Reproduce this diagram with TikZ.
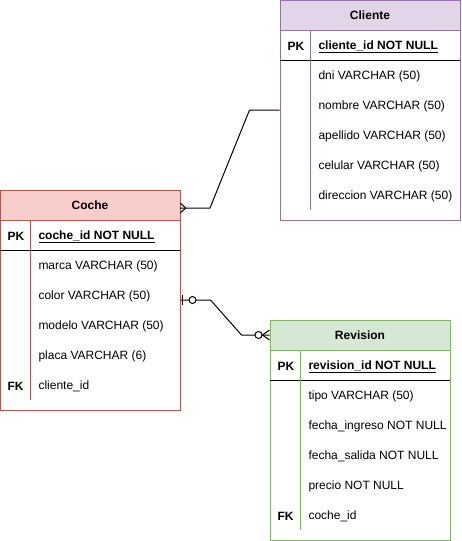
\documentclass[tikz,border=0pt]{standalone}
\usepackage{fontspec}
\setmainfont{Liberation Sans}
\usetikzlibrary{calc}
\definecolor{cliFill}{HTML}{E1D5E7}
\definecolor{cliLine}{HTML}{9673A6}
\definecolor{cocFill}{HTML}{F8CECC}
\definecolor{cocLine}{HTML}{B85450}
\definecolor{revFill}{HTML}{D5E8D4}
\definecolor{revLine}{HTML}{82B366}
\begin{document}
\begin{tikzpicture}
  [x=1pt,y=-1pt,line width=1pt,
   every node/.style={font=\fontsize{12}{14}\selectfont},
   table/.style={minimum width=180pt,minimum height=220pt,inner sep=0pt,fill=white},
   head/.style={minimum width=180pt,minimum height=30pt,inner sep=0pt,font=\fontsize{12}{14}\selectfont\bfseries},
   field/.style={anchor=west,inner sep=0pt,yshift=-1.5pt},
   key/.style={anchor=west,inner sep=0pt,yshift=-1.5pt,font=\fontsize{12}{14}\selectfont\bfseries},
   link/.style={line width=1pt,black}]
  \useasboundingbox (0,0) rectangle (461,541);

  % Cliente
  \node (cliente)[table,draw=cliLine] at (370,110) {};
  \node (cliHead)[head,fill=cliFill,draw=cliLine] at (370,15) {Cliente};
  \draw (280,60) -- (460,60);
  \draw[cliLine] (310,30) -- (310,210);
  \node (cliPK)[key] at (287,45) {PK};
  \node (cliId)[key] at (318,45) {\underline{cliente\_id NOT NULL}};
  \foreach \txt [count=\i] in {dni VARCHAR (50),nombre VARCHAR (50),apellido VARCHAR (50),celular VARCHAR (50),direccion VARCHAR (50)}
    \node (cli\i)[field] at (318,45+30*\i) {\txt};

  % Coche
  \node (coche)[table,draw=cocLine] at (90,300) {};
  \node (cocHead)[head,fill=cocFill,draw=cocLine] at (90,205) {Coche};
  \draw (0,250) -- (180,250);
  \draw[cocLine] (30,220) -- (30,400);
  \node (cocPK)[key] at (7,235) {PK};
  \node (cocId)[key] at (38,235) {\underline{coche\_id NOT NULL}};
  \foreach \txt [count=\i] in {marca VARCHAR (50),color VARCHAR (50),modelo VARCHAR (50),placa VARCHAR (6),cliente\_id}
    \node (coc\i)[field] at (38,235+30*\i) {\txt};
  \node (cocFK)[key] at (7,385) {FK};

  % Revision
  \node (revision)[table,draw=revLine] at (360,430) {};
  \node (revHead)[head,fill=revFill,draw=revLine] at (360,335) {Revision};
  \draw (270,380) -- (450,380);
  \draw[revLine] (300,350) -- (300,530);
  \node (revPK)[key] at (277,365) {PK};
  \node (revId)[key] at (308,365) {\underline{revision\_id NOT NULL}};
  \foreach \txt [count=\i] in {tipo VARCHAR (50),fecha\_ingreso NOT NULL,fecha\_salida NOT NULL,precio NOT NULL,coche\_id}
    \node (rev\i)[field] at (308,365+30*\i) {\txt};
  \node (revFK)[key] at (277,515) {FK};

  % Cliente -- Coche (one to many)
  \coordinate (cocIn) at (180,208);
  \draw[link] (cliente.west) -- ++(-30,0) -- ($(cocIn)+(30,0)$) -- (cocIn);
  \draw[link] ($(cocIn)+(6,0)$) -- ($(cocIn)+(0,-5)$)
              ($(cocIn)+(6,0)$) -- ($(cocIn)+(0,5)$);

  % Coche -- Revision (zero or one to zero or many)
  \draw[link] (coche.east) -- ++(30,0) -- ($(revHead.west)+(-28,0)$) -- (revHead.west);
  \draw[link] ($(coche.east)+(2,-5)$) -- ($(coche.east)+(2,5)$);
  \draw[link,fill=white] ($(coche.east)+(12,0)$) circle (3.5pt);
  \draw[link] ($(revHead.west)+(-7,0)$) -- ($(revHead.west)+(0,-5)$)
              ($(revHead.west)+(-7,0)$) -- ($(revHead.west)+(0,5)$);
  \draw[link,fill=white] ($(revHead.west)+(-11,0)$) circle (3.5pt);
\end{tikzpicture}
\end{document}
